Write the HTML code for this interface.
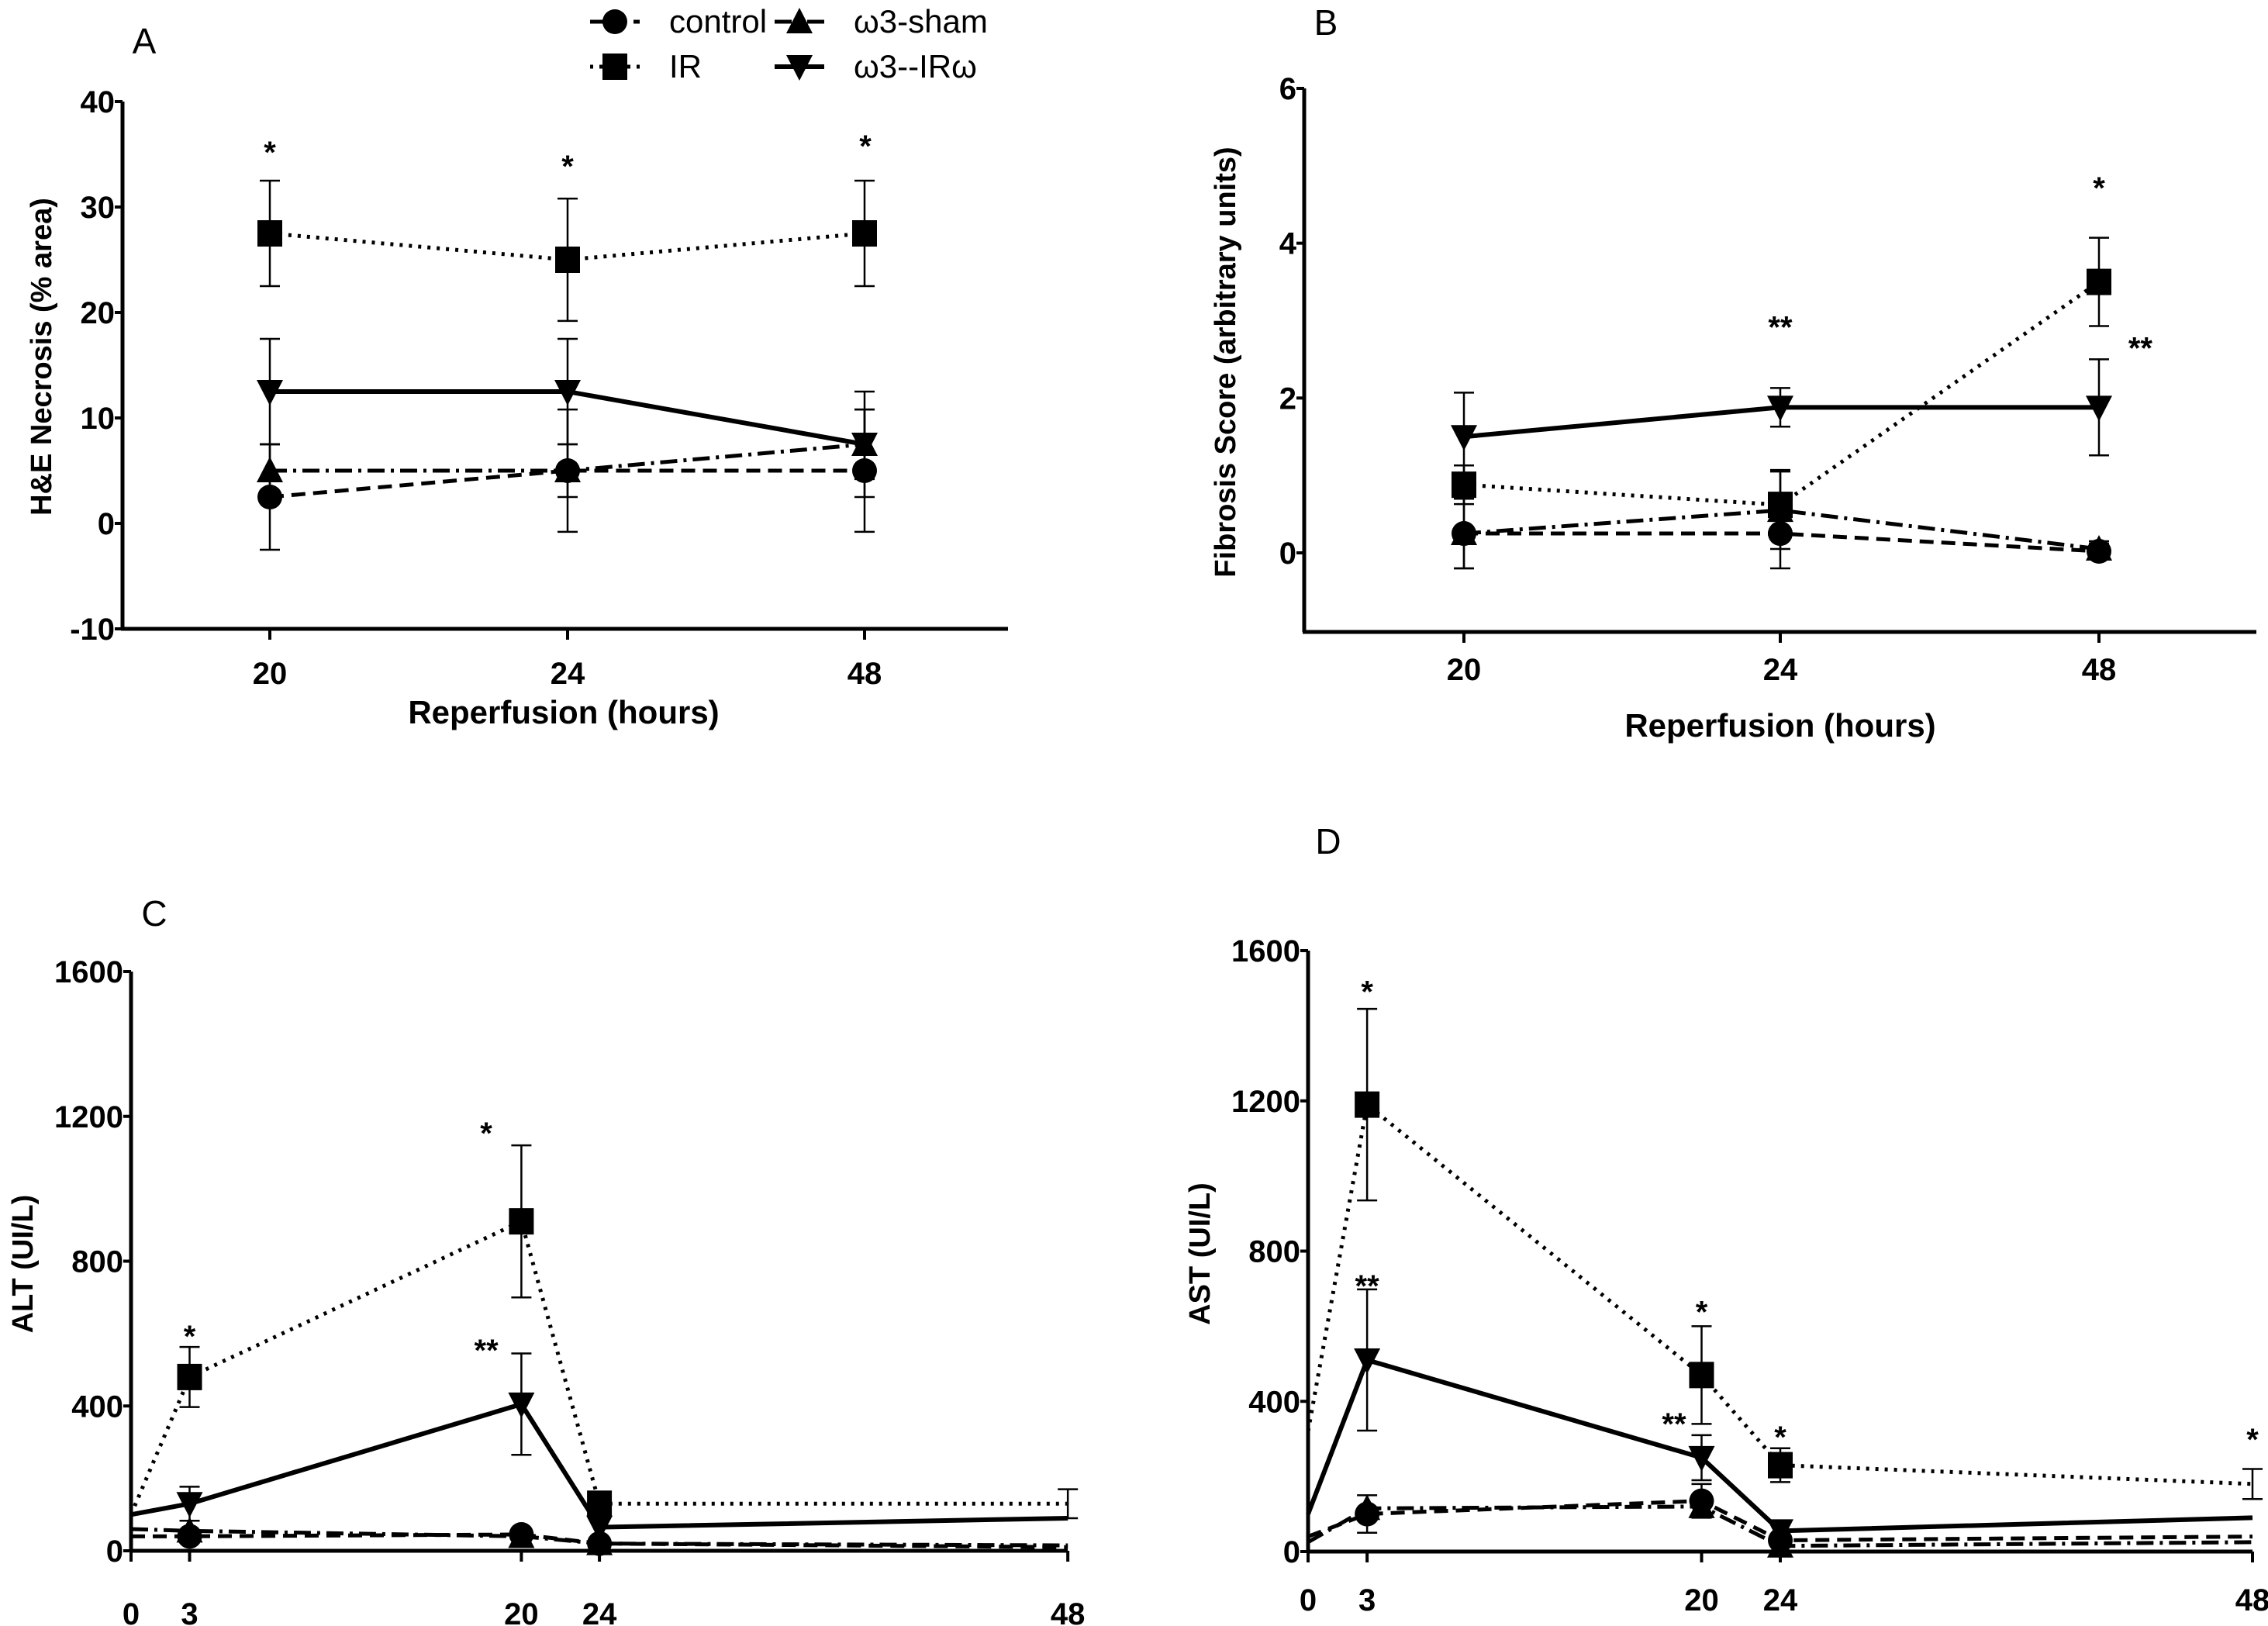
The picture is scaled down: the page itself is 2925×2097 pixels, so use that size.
<!DOCTYPE html>
<html><head><meta charset="utf-8"><style>
html,body{margin:0;padding:0;background:#fff;}
svg{display:block;}
text{font-family:"Liberation Sans Narrow","Liberation Sans",sans-serif;fill:#000;}
.tick{font-weight:bold;font-size:40px;}
.ttl{font-weight:bold;font-size:42px;}
.ylab{font-family:"Liberation Sans",sans-serif;font-weight:bold;font-size:38px;}
.pl{font-size:42px;}
.let{font-size:46px;}
.star{font-family:"Liberation Sans",sans-serif;font-weight:bold;font-size:40px;}
</style></head><body>
<svg id="fig" width="2925" height="2097" viewBox="0 0 2925 2097" xmlns="http://www.w3.org/2000/svg"></svg>
<script>
// ---------- Panel A data ----------
const A_cats=["20","24","48"];
const A_control=[2.5,5,5];      const A_controlErr=[5,5.8,5.8];
const A_IR=[27.5,25,27.5];      const A_IRErr=[5,5.8,5];
const A_sham=[5,5,7.5];         const A_shamErr=[2.5,2.5,3.3];
const A_w3IR=[12.5,12.5,7.5];   const A_w3IRErr=[5,5,5];
const A_yTicks=[-10,0,10,20,30,40];
const A_stars=[["*",0,35.8],["*",1,34.5],["*",2,36.4]];
// ---------- Panel B data ----------
const B_cats=["20","24","48"];
const B_control=[0.25,0.25,0.02];  const B_controlErr=[0.45,0.45,0.1];
const B_IR=[0.88,0.62,3.5];        const B_IRErr=[0.25,0.45,0.57];
const B_sham=[0.25,0.55,0.05];     const B_shamErr=[0.45,0.5,0.1];
const B_w3IR=[1.5,1.88,1.88];      const B_w3IRErr=[0.57,0.25,0.62];
const B_yTicks=[0,2,4,6];
const B_stars=[["**",1,3.0],["*",2,4.8],["**",2.13,2.73]];
// ---------- Panel C data ----------
const C_times=[0,3,20,24,48];
const C_control=[40,40,45,20,10];   const C_controlErr=[0,0,0,0,0];
const C_IR=[100,480,910,130,130];   const C_IRErr=[0,83,210,0,40];
const C_sham=[60,55,40,20,15];      const C_shamErr=[0,0,0,0,0];
const C_w3IR=[100,130,405,65,90];   const C_w3IRErr=[0,47,140,0,0];
const C_yTicks=[0,400,800,1200,1600];
const C_stars=[["*",3,610],["*",18.2,1172],["**",18.2,572]];
// ---------- Panel D data ----------
const D_times=[0,3,20,24,48];
const D_control=[40,100,135,30,40];    const D_controlErr=[0,50,45,0,0];
const D_IR=[320,1190,470,230,180];     const D_IRErr=[0,255,130,45,40];
const D_sham=[25,115,120,15,25];       const D_shamErr=[0,0,0,0,0];
const D_w3IR=[100,510,250,55,90];      const D_w3IRErr=[0,188,60,0,0];
const D_yTicks=[0,400,800,1200,1600];
const D_stars=[["*",3,1508],["**",3,725],["*",20,655],["**",18.6,357],["*",24,322],["*",48,316]];

const NS="http://www.w3.org/2000/svg";
const svg=document.getElementById('fig');
function mk(tag,attrs,parent,txt){const e=document.createElementNS(NS,tag);for(const k in attrs)e.setAttribute(k,attrs[k]);if(txt!==undefined)e.textContent=txt;(parent||svg).appendChild(e);return e;}
const STY={control:{dash:"18,10",w:5,m:"circle"},IR:{dash:"4,8",w:5,m:"square"},sham:{dash:"22,8,4,8",w:5,m:"up"},w3IR:{dash:"",w:6,m:"down"}};
function marker(g,type,x,y){
  let e;
  if(type==="circle"){e=mk('circle',{cx:x,cy:y,r:16,fill:"#000"},g);}
  else if(type==="square"){e=mk('rect',{x:x-16,y:y-17,width:32,height:34,fill:"#000"},g);}
  else if(type==="up"){e=mk('polygon',{points:`${x-17},${y+15} ${x+17},${y+15} ${x},${y-18}`,fill:"#000"},g);}
  else {e=mk('polygon',{points:`${x-17},${y-15} ${x+17},${y-15} ${x},${y+18}`,fill:"#000"},g);}
  
  
}
function panel(p){
  const g=mk('g',{});
  
  
  const sy=v=>p.y0+(v-p.vmin)/(p.vmax-p.vmin)*(p.y1-p.y0);
  const sx=p.sx;
  const ya=mk('line',{x1:p.ax,y1:sy(p.vmax),x2:p.ax,y2:p.axisY,stroke:"#000","stroke-width":5},g);
  
  const xa=mk('line',{x1:p.ax-2,y1:p.axisY,x2:p.xEnd,y2:p.axisY,stroke:"#000","stroke-width":5},g);
  
  p.yTicks.forEach(t=>{
    mk('line',{x1:p.ax-10,y1:sy(t),x2:p.ax,y2:sy(t),stroke:"#000","stroke-width":4},g);
    const tl=mk('text',{x:p.ax-10,y:sy(t)+14,"text-anchor":"end",class:"tick"},g,String(t));
    
  });
  p.xTicks.forEach((t,i)=>{
    const x=sx(t);
    mk('line',{x1:x,y1:p.axisY,x2:x,y2:p.axisY+14,stroke:"#000","stroke-width":4},g);
    const tl=mk('text',{x:x,y:p.xLabY,"text-anchor":"middle",class:"tick"},g,p.xTickLabels[i]);
    
  });
  const order=["control","sham","IR","w3IR"];
  order.forEach(k=>{
    const vals=p.series[k][0],errs=p.series[k][1],st=STY[k];
    const pts=vals.map((v,i)=>[sx(p.xTicks[i]),sy(v)]);
    const pl=mk('polyline',{points:pts.map(q=>q.join(",")).join(" "),fill:"none",stroke:"#000","stroke-width":st.w,"stroke-dasharray":st.dash},g);
    
    vals.forEach((v,i)=>{
      if(errs[i]>0){
        const x=sx(p.xTicks[i]),a=sy(v+errs[i]),b=sy(v-errs[i]);
        const eb=mk('path',{d:`M${x},${a}V${b}M${x-13},${a}H${x+13}M${x-13},${b}H${x+13}`,stroke:"#000","stroke-width":2.5,fill:"none"},g);
        
      }
      if(!p.markerSkip || !p.markerSkip.includes(i)) marker(g,st.m,pts[i][0],pts[i][1]);
    });
  });
  p.stars.forEach(s=>{
    const st=mk('text',{x:p.starX(s[1]),y:sy(s[2])+22,"text-anchor":"middle",class:"star"},g,s[0]);
    
  });
  const pl=mk('text',{x:p.letter[0],y:p.letter[1]+17,"text-anchor":"middle",class:"let"},g,p.letter[2]);
  
  const yl=mk('text',{x:0,y:0,"text-anchor":"middle",class:"ylab",transform:`translate(${p.ylab[0]+14},${p.ylab[1]}) rotate(-90)`},g,p.ylab[2]);
  
  if(p.xlab){const xl=mk('text',{x:p.xlab[0],y:p.xlab[1]+15,"text-anchor":"middle",class:"ttl"},g,p.xlab[2]);
  }
}
const catA=[348,732,1115], catB=[1888,2296,2707];
panel({name:"panel-a",ax:158,axisY:811,xEnd:1300,vmin:-10,vmax:40,y0:811,y1:131,
  sx:i=>catA[i],xTicks:[0,1,2],xTickLabels:A_cats,xLabY:882,yTicks:A_yTicks,
  series:{control:[A_control,A_controlErr],IR:[A_IR,A_IRErr],sham:[A_sham,A_shamErr],w3IR:[A_w3IR,A_w3IRErr]},
  stars:A_stars,starX:i=>catA[0]+i*(catA[1]-catA[0]),letter:[186,52,"A"],ylab:[52,460,"H&E Necrosis (% area)"],xlab:[727,918,"Reperfusion (hours)"]});
panel({name:"panel-b",ax:1682,axisY:815,xEnd:2910,vmin:0,vmax:6,y0:713,y1:114,
  sx:i=>catB[i],xTicks:[0,1,2],xTickLabels:B_cats,xLabY:877,yTicks:B_yTicks,
  series:{control:[B_control,B_controlErr],IR:[B_IR,B_IRErr],sham:[B_sham,B_shamErr],w3IR:[B_w3IR,B_w3IRErr]},
  stars:B_stars,starX:i=>i<=1?catB[0]+i*(catB[1]-catB[0]):catB[1]+(i-1)*(catB[2]-catB[1]),letter:[1710,28,"B"],ylab:[1579,467,"Fibrosis Score (arbitrary units)"],xlab:[2296,935,"Reperfusion (hours)"]});
const sxC=t=>169+t*25.17, sxD=t=>1687+t*25.375;
panel({name:"panel-c",ax:169,axisY:2000,xEnd:1377,vmin:0,vmax:1600,y0:2000,y1:1253,
  sx:sxC,xTicks:C_times,xTickLabels:C_times.map(String),xLabY:2095,yTicks:C_yTicks,markerSkip:[0,4],
  series:{control:[C_control,C_controlErr],IR:[C_IR,C_IRErr],sham:[C_sham,C_shamErr],w3IR:[C_w3IR,C_w3IRErr]},
  stars:C_stars,starX:sxC,letter:[199,1177,"C"],ylab:[28,1630,"ALT (UI/L)"]});
panel({name:"panel-d",ax:1687,axisY:2001,xEnd:2905,vmin:0,vmax:1600,y0:2001,y1:1226,
  sx:sxD,xTicks:D_times,xTickLabels:D_times.map(String),xLabY:2077,yTicks:D_yTicks,markerSkip:[0,4],
  series:{control:[D_control,D_controlErr],IR:[D_IR,D_IRErr],sham:[D_sham,D_shamErr],w3IR:[D_w3IR,D_w3IRErr]},
  stars:D_stars,starX:sxD,letter:[1713,1084,"D"],ylab:[1546,1617,"AST (UI/L)"]});
const legend=[["control",793,28,"control"],["sham",1031,28,"ω3-sham"],["IR",793,86,"IR"],["w3IR",1031,86,"ω3--IRω"]];
const lg=mk('g',{});


legend.forEach(l=>{
  const st=STY[l[0]];
  const e=mk('g',{},lg);
  
  
  mk('line',{x1:l[1]-32,y1:l[2],x2:l[1]+32,y2:l[2],stroke:"#000","stroke-width":st.w,"stroke-dasharray":st.dash},e);
  marker(e,st.m,l[1],l[2]);
  mk('text',{x:l[1]+70,y:l[2]+14,class:"pl"},e,l[3]);
});
</script>
</body></html>
